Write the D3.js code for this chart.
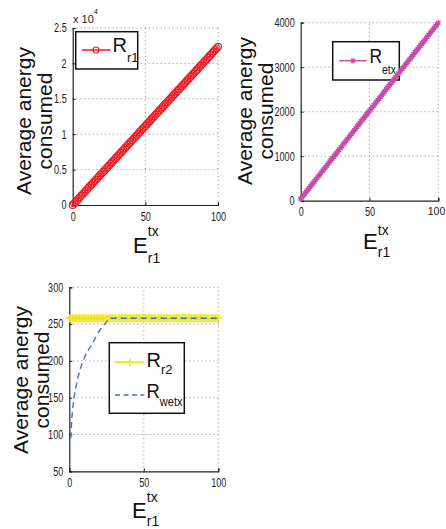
<!DOCTYPE html>
<html><head><meta charset="utf-8">
<script src="https://cdn.jsdelivr.net/npm/d3@7"></script>
<style>
html,body{margin:0;padding:0;background:#fff;}
svg{display:block;font-family:"Liberation Sans",Arial,Helvetica,sans-serif;}
</style></head>
<body>
<svg id="chart" width="446" height="529"></svg>
<script>
// ---------------- data ----------------
const xTicks = [0, 50, 100];
const xs = [0,1,2,3,4,5,6,7,8,9,10,11,12,13,14,15,16,17,18,19,20,21,22,23,24,25,26,27,28,29,30,31,32,33,34,35,36,37,38,39,40,41,42,43,44,45,46,47,48,49,50,51,52,53,54,55,56,57,58,59,60,61,62,63,64,65,66,67,68,69,70,71,72,73,74,75,76,77,78,79,80,81,82,83,84,85,86,87,88,89,90,91,92,93,94,95,96,97,98,99,100];

// Panel 1: R_r1
const Rr1 = [0,224,447,671,894,1118,1341,1565,1788,2012,2235,2459,2682,2906,3129,3353,3576,3800,4023,4247,4470,4694,4917,5141,5364,5588,5811,6035,6258,6482,6705,6929,7152,7376,7599,7823,8046,8270,8493,8717,8940,9164,9387,9611,9834,10058,10281,10505,10728,10952,11175,11399,11622,11846,12069,12293,12516,12740,12963,13187,13410,13634,13857,14081,14304,14528,14751,14975,15198,15422,15645,15869,16092,16316,16539,16763,16986,17210,17433,17657,17880,18104,18327,18551,18774,18998,19221,19445,19668,19892,20115,20339,20562,20786,21009,21233,21456,21680,21903,22127,22350];
const yTicks1 = [0, 0.5, 1, 1.5, 2, 2.5]; // x 10^4

// Panel 2: R_etx
const Retx = [40,80,119,159,198,238,278,317,357,396,436,476,515,555,594,634,674,713,753,792,832,872,911,951,990,1030,1070,1109,1149,1188,1228,1268,1307,1347,1386,1426,1466,1505,1545,1584,1624,1664,1703,1743,1782,1822,1862,1901,1941,1980,2020,2060,2099,2139,2178,2218,2258,2297,2337,2376,2416,2456,2495,2535,2574,2614,2654,2693,2733,2772,2812,2852,2891,2931,2970,3010,3050,3089,3129,3168,3208,3248,3287,3327,3366,3406,3446,3485,3525,3564,3604,3644,3683,3723,3762,3802,3842,3881,3921,3960,4000];
const yTicks2 = [0, 1000, 2000, 3000, 4000];

// Panel 3: R_r2 and R_wetx
const Rr2 = [258,258,258,258,258,258,258,258,258,258,258,258,258,258,258,258,258,258,258,258,258,258,258,258,258,258,258,258,258,258,258,258,258,258,258,258,258,258,258,258,258,258,258,258,258,258,258,258,258,258,258,258,258,258,258,258,258,258,258,258,258,258,258,258,258,258,258,258,258,258,258,258,258,258,258,258,258,258,258,258,258,258,258,258,258,258,258,258,258,258,258,258,258,258,258,258,258,258,258,258,258];
const xWetx = [1, 1.5, 2.7, 4.5, 7.2, 10.5, 15, 20.6, 25, 27.5, 30, 40, 50, 60, 70, 80, 90, 100];
const Rwetx = [95, 115, 142, 165, 188, 206, 222, 242, 253, 258, 258, 258, 258, 258, 258, 258, 258, 258];
const yTicks3 = [50, 100, 150, 200, 250, 300];

// ---------------- drawing ----------------
const svg = d3.select("#chart");

function squeeze(sel, f) {
  sel.each(function() {
    const L = this.getComputedTextLength();
    d3.select(this).attr("textLength", L * f).attr("lengthAdjust", "spacingAndGlyphs");
  });
}

function panel(cfg) {
  const g = svg.append("g");
  const x = d3.scaleLinear().domain([0, 100]).range([cfg.left, cfg.right]);
  const y = d3.scaleLinear().domain(cfg.ydom).range([cfg.bottom, cfg.top]);
  const grid = g.append("g").attr("stroke", "#8a8a8a").attr("stroke-width", 1).attr("stroke-dasharray", "1,3");
  xTicks.forEach(t => {
    if (t === 0) return;
    grid.append("line").attr("x1", x(t)).attr("x2", x(t)).attr("y1", cfg.bottom).attr("y2", cfg.top);
  });
  cfg.yTickVals.forEach(t => {
    if (t === cfg.ydom[0]) return;
    grid.append("line").attr("x1", cfg.left).attr("x2", cfg.right).attr("y1", y(t)).attr("y2", y(t));
  });
  const xa = d3.axisBottom(x).tickValues(xTicks).tickSize(-3).tickPadding(7).tickFormat(d3.format("d"));
  const ya = d3.axisLeft(y).tickValues(cfg.yTickVals).tickSize(-3).tickPadding(6).tickFormat(cfg.yFmt);
  const gx = g.append("g").attr("transform", `translate(0,${cfg.bottom})`).call(xa);
  const gy = g.append("g").attr("transform", `translate(${cfg.left},0)`).call(ya);
  [gx, gy].forEach(a => {
    a.select(".domain").attr("stroke", "#222").attr("stroke-width", 1.2);
    a.selectAll(".tick line").attr("stroke", "#222");
    a.selectAll(".tick text").attr("font-size", 12).attr("fill", "#222").attr("font-family", "Liberation Sans, Arial, sans-serif");
    squeeze(a.selectAll(".tick text"), 0.76);
  });
  if (cfg.edgeLabel) {
    gx.selectAll(".tick text").filter(d => d === 100)
      .attr("textLength", null).attr("lengthAdjust", null)
      .attr("font-size", 10.5).attr("text-anchor", "end").attr("x", cfg.edgeLabel);
  }
  return {g, x, y};
}

function yLabel(xb1, cy) {
  const t = svg.append("text").attr("font-size", 21).attr("fill", "#111").attr("text-anchor", "middle")
    .attr("transform", `translate(${xb1},${cy}) rotate(-90)`);
  t.append("tspan").attr("x", 0).attr("dy", 0).text("Average anergy");
  t.append("tspan").attr("x", 0).attr("dy", 21).text("consumed");
}

function xLabel(xe, yb, dyup, dydn) {
  const dxs = 14.8;
  const t = svg.append("text").attr("x", xe).attr("y", yb).attr("font-size", 22).attr("fill", "#111");
  t.append("tspan").text("E");
  t.append("tspan").attr("x", xe + dxs).attr("dy", -dyup).attr("font-size", 14).text("tx");
  t.append("tspan").attr("x", xe + dxs).attr("dy", dyup + dydn).attr("font-size", 14).text("r1");
}

function legendBox(x0, y0, w, h) {
  svg.append("rect").attr("x", x0).attr("y", y0).attr("width", w).attr("height", h)
    .attr("fill", "#fff").attr("stroke", "#111").attr("stroke-width", 1.5);
}
function legendText(x0, yb, main, sub, subDy, subSize, f) {
  const t = svg.append("text").attr("x", x0).attr("y", yb).attr("font-size", 20).attr("fill", "#111");
  t.append("tspan").text(main);
  t.append("tspan").attr("dy", subDy).attr("font-size", subSize).text(sub);
  if (f) squeeze(t, f);
}

const starPath = r => {
  const d = r * 0.72;
  return `M${-r},0H${r}M0,${-r}V${r}M${-d},${-d}L${d},${d}M${-d},${d}L${d},${-d}`;
};
const plusPath = r => `M${-r},0H${r}M0,${-r}V${r}`;

// ---- Panel 1 ----
{
  const p = panel({left: 72.7, right: 218, top: 28, bottom: 205, ydom: [0, 25000],
    yTickVals: yTicks1.map(v => v * 1e4), yFmt: v => String(v / 1e4)});
  const red = "#ec1c24";
  const pts = xs.map((xv, i) => [p.x(xv), p.y(Rr1[i])]);
  p.g.append("path").attr("d", d3.line()(pts)).attr("fill", "none").attr("stroke", red).attr("stroke-width", 1.5);
  p.g.selectAll("circle.m").data(pts).join("circle").attr("cx", d => d[0]).attr("cy", d => d[1]).attr("r", 3.4)
    .attr("fill", "none").attr("stroke", red).attr("stroke-width", 1.1);
  const e = svg.append("text").attr("x", 73).attr("y", 23).attr("font-size", 11).attr("fill", "#222");
  e.append("tspan").text("x 10");
  e.append("tspan").attr("dy", -9).attr("font-size", 7.5).text("4");
  yLabel(31, 121);
  xLabel(133, 252.5, 17, 10);
  legendBox(75.7, 31.7, 62, 37.3);
  svg.append("line").attr("x1", 81.7).attr("x2", 110.7).attr("y1", 50).attr("y2", 50).attr("stroke", red).attr("stroke-width", 1.5);
  svg.append("circle").attr("cx", 96).attr("cy", 50).attr("r", 3).attr("fill", "none").attr("stroke", red).attr("stroke-width", 1.2);
  legendText(112.5, 51.7, "R", "r1", 10, 13);
}

// ---- Panel 2 ----
{
  const p = panel({left: 300.7, right: 438.3, top: 22.7, bottom: 200.7, ydom: [0, 4000],
    yTickVals: yTicks2, yFmt: d3.format("d"), edgeLabel: 6.5});
  const mag = "#c54ea9";
  yLabel(252, 111);
  xLabel(363, 248.8, 14, 8.5);
  legendBox(332.7, 41.7, 66.6, 38.3);
  svg.append("line").attr("x1", 339.3).attr("x2", 366.7).attr("y1", 60.7).attr("y2", 60.7).attr("stroke", mag).attr("stroke-width", 1.5);
  svg.append("path").attr("transform", "translate(353,60.7)").attr("d", starPath(3)).attr("fill", "none").attr("stroke", mag).attr("stroke-width", 1.1);
  legendText(369.5, 62.7, "R", "etx", 11, 12, 0.87);
  const dg = svg.append("g");
  const pts = xs.map((xv, i) => [p.x(xv), p.y(Retx[i])]);
  dg.append("path").attr("d", d3.line()(pts)).attr("fill", "none").attr("stroke", mag).attr("stroke-width", 1.5);
  dg.selectAll("path.m").data(pts).join("path").attr("class", "m")
    .attr("transform", d => `translate(${d[0]},${d[1]})`).attr("d", starPath(3))
    .attr("fill", "none").attr("stroke", mag).attr("stroke-width", 1.1);
}

// ---- Panel 3 ----
{
  const p = panel({left: 69.3, right: 218.3, top: 287.3, bottom: 471.3, ydom: [50, 300],
    yTickVals: yTicks3, yFmt: d3.format("d")});
  const yel = "#eee41a";
  const blue = "#4a6cc2";
  const pts = xs.map((xv, i) => [p.x(xv), p.y(Rr2[i])]);
  p.g.append("path").attr("d", d3.line()(pts)).attr("fill", "none").attr("stroke", yel).attr("stroke-width", 2);
  p.g.selectAll("path.m").data(pts).join("path").attr("class", "m")
    .attr("transform", d => `translate(${d[0]},${d[1]})`).attr("d", plusPath(4))
    .attr("fill", "none").attr("stroke", yel).attr("stroke-width", 1.3);
  const wpts = xWetx.map((xv, i) => [p.x(xv), p.y(Rwetx[i])]);
  p.g.append("path").attr("d", d3.line().curve(d3.curveMonotoneX)(wpts)).attr("fill", "none")
    .attr("stroke", blue).attr("stroke-width", 1.4).attr("stroke-dasharray", "6,4");
  yLabel(28, 380);
  xLabel(132, 517.5, 16, 8.5);
  legendBox(109.3, 342.7, 75, 70.6);
  svg.append("line").attr("x1", 115).attr("x2", 144.3).attr("y1", 362.3).attr("y2", 362.3).attr("stroke", yel).attr("stroke-width", 2);
  svg.append("path").attr("transform", "translate(130,362.3)").attr("d", plusPath(4)).attr("fill", "none").attr("stroke", yel).attr("stroke-width", 1.3);
  legendText(146.5, 366.7, "R", "r2", 7, 13);
  svg.append("line").attr("x1", 115).attr("x2", 144.3).attr("y1", 395).attr("y2", 395).attr("stroke", blue).attr("stroke-width", 1.4).attr("stroke-dasharray", "5,3.5");
  legendText(146.5, 398.3, "R", "wetx", 8, 12, 0.92);
}
</script>
</body></html>
